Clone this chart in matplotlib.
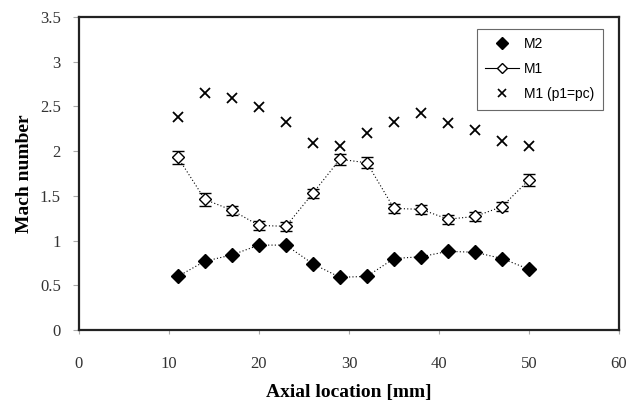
import matplotlib
matplotlib.use("Agg")
import matplotlib.pyplot as plt
from matplotlib.lines import Line2D

x = [11, 14, 17, 20, 23, 26, 29, 32, 35, 38, 41, 44, 47, 50]
m2 = [0.60, 0.77, 0.84, 0.95, 0.95, 0.74, 0.59, 0.60, 0.80, 0.82, 0.88, 0.87, 0.80, 0.68]
m1 = [1.93, 1.46, 1.34, 1.17, 1.16, 1.53, 1.91, 1.87, 1.36, 1.35, 1.24, 1.27, 1.38, 1.68]
m1_err = [0.07, 0.07, 0.05, 0.05, 0.05, 0.05, 0.06, 0.06, 0.05, 0.05, 0.05, 0.05, 0.05, 0.07]
m1_pc = [2.38, 2.65, 2.60, 2.49, 2.33, 2.09, 2.06, 2.20, 2.33, 2.43, 2.31, 2.24, 2.11, 2.06]

xticks = [0, 10, 20, 30, 40, 50, 60]
yticks = [0, 0.5, 1, 1.5, 2, 2.5, 3, 3.5]
ytick_labels = ["0", "0.5", "1", "1.5", "2", "2.5", "3", "3.5"]

fig = plt.figure(figsize=(6.31, 4.05), dpi=100)
ax = fig.add_axes([0.125, 0.185, 0.856, 0.773])

ax.plot(x, m2, linestyle=(0, (1, 2)), color="black", lw=0.8, marker="D",
        markersize=7, markerfacecolor="black", markeredgecolor="black")
ax.errorbar(x, m1, yerr=m1_err, linestyle=(0, (1, 2)), color="black", lw=0.8,
            marker="D", markersize=6, markerfacecolor="white", markeredgecolor="black",
            markeredgewidth=1.0, ecolor="black", elinewidth=1.0, capsize=4, capthick=1.0)
ax.plot(x, m1_pc, linestyle="none", marker="x", markersize=7, markeredgewidth=1.3,
        color="black")

ax.set_xlim(0, 60)
ax.set_ylim(0, 3.5)
ax.set_xticks(xticks)
ax.set_yticks(yticks)
ax.set_yticklabels(ytick_labels)
for lbl in ax.get_xticklabels() + ax.get_yticklabels():
    lbl.set_family("Liberation Serif")
    lbl.set_fontsize(12)
    lbl.set_color("#333333")
ax.tick_params(axis="x", direction="out", length=3, pad=16, color="#aaaaaa")
ax.tick_params(axis="y", direction="out", length=4, pad=9, color="#aaaaaa")

for s in ax.spines.values():
    s.set_linewidth(1.6)
    s.set_color("#222222")

ax.set_xlabel("Axial location [mm]", family="Liberation Serif", fontweight="bold",
              fontsize=14, labelpad=8)
ax.set_ylabel("Mach number", family="Liberation Serif", fontweight="bold",
              fontsize=14, labelpad=5)

handles = [
    Line2D([], [], linestyle="none", marker="D", markersize=6, color="black"),
    Line2D([], [], linestyle="-", lw=0.8, color="black", marker="D", markersize=5,
           markerfacecolor="white", markeredgecolor="black"),
    Line2D([], [], linestyle="none", marker="x", markersize=6, markeredgewidth=1.2,
           color="black"),
]
labels = ["M2", "M1", "M1 (p1=pc)"]
leg = ax.legend(handles, labels, loc="upper right", bbox_to_anchor=(0.983, 0.985),
                prop={"family": "Liberation Sans", "size": 10},
                frameon=True, fancybox=False, edgecolor="#444444",
                borderpad=0.6, labelspacing=0.8, handlelength=2.4, handletextpad=0.4)
leg.get_frame().set_linewidth(0.8)

fig.savefig("out.png", dpi=100)
